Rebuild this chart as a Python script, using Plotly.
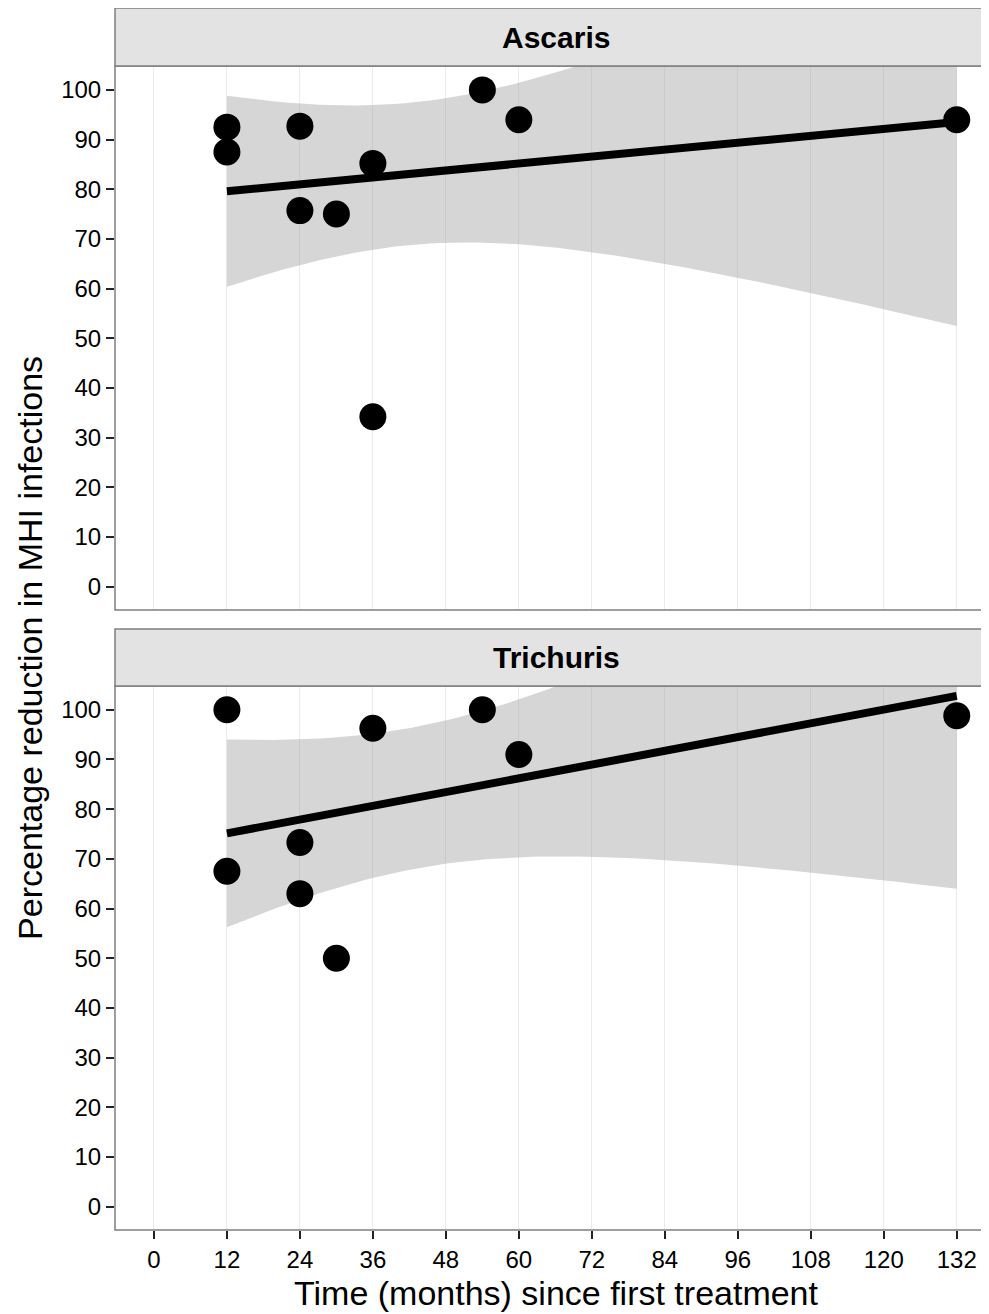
import numpy as np
import plotly.graph_objects as go

# ---- data ----
asc_x = [12, 12, 24, 24, 30, 36, 36, 54, 60, 132]
asc_y = [92.5, 87.5, 92.7, 75.7, 75.0, 85.2, 34.2, 100.0, 94.0, 94.0]
tri_x = [12, 12, 24, 24, 30, 36, 54, 60, 132]
tri_y = [100.0, 67.5, 73.3, 63.0, 50.0, 96.3, 100.0, 91.0, 98.8]
panels = ["Ascaris", "Trichuris"]
x_ticks = [0, 12, 24, 36, 48, 60, 72, 84, 96, 108, 120, 132]
y_ticks = [0, 10, 20, 30, 40, 50, 60, 70, 80, 90, 100]
t975 = {8: 2.306004, 7: 2.364624}

FONT = "Liberation Sans, Arial, sans-serif"


def lm_band(x, y, n_grid=80):
    x = np.asarray(x, float)
    y = np.asarray(y, float)
    n = len(x)
    b1, b0 = np.polyfit(x, y, 1)
    resid = y - (b0 + b1 * x)
    s = np.sqrt(np.sum(resid ** 2) / (n - 2))
    xbar = x.mean()
    sxx = np.sum((x - xbar) ** 2)
    xg = np.linspace(x.min(), x.max(), n_grid)
    yh = b0 + b1 * xg
    se = s * np.sqrt(1.0 / n + (xg - xbar) ** 2 / sxx)
    t = t975[n - 2]
    return xg, yh, yh - t * se, yh + t * se


fig = go.Figure()
data = [(asc_x, asc_y), (tri_x, tri_y)]
for i, (xs, ys) in enumerate(data):
    xa = "x" if i == 0 else "x2"
    ya = "y" if i == 0 else "y2"
    xg, yh, lo, hi = lm_band(xs, ys)
    fig.add_trace(go.Scatter(x=xg, y=lo, mode="lines", line=dict(width=0),
                             hoverinfo="skip", showlegend=False, xaxis=xa, yaxis=ya))
    fig.add_trace(go.Scatter(x=xg, y=hi, mode="lines", line=dict(width=0),
                             fill="tonexty", fillcolor="rgba(153,153,153,0.4)",
                             hoverinfo="skip", showlegend=False, xaxis=xa, yaxis=ya))
    fig.add_trace(go.Scatter(x=xg, y=yh, mode="lines", line=dict(color="black", width=8),
                             showlegend=False, xaxis=xa, yaxis=ya))
    fig.add_trace(go.Scatter(x=xs, y=ys, mode="markers",
                             marker=dict(color="black", size=27, line=dict(width=0)),
                             showlegend=False, xaxis=xa, yaxis=ya))

# domains (paper fractions)
d_p2 = [0.0, 0.4452]
d_s2 = [0.4452, 0.4918]
d_p1 = [0.5074, 0.9525]
d_s1 = [0.9525, 1.0]

xr = [-6.4, 137.3]
yr = [-4.7, 104.8]

tickfont = dict(family=FONT, size=24, color="black")
common_x = dict(range=xr, tickvals=x_ticks, showgrid=True, gridcolor="#EBEBEB", gridwidth=1.3,
                zeroline=False, showline=False, ticklen=8, tickwidth=2,
                tickcolor="#222222", tickfont=tickfont)
common_y = dict(range=yr, tickvals=y_ticks, showgrid=False, zeroline=False, showline=False,
                ticks="outside", ticklen=8, tickwidth=2, tickcolor="#222222",
                tickfont=tickfont)

fig.update_layout(
    width=981, height=1306,
    margin=dict(l=107, r=0, t=0, b=84),
    paper_bgcolor="white", plot_bgcolor="white",
    xaxis=dict(domain=[0, 1], anchor="y", showticklabels=False, ticks="", **common_x),
    yaxis=dict(domain=d_p1, anchor="x", **common_y),
    xaxis2=dict(domain=[0, 1], anchor="y2", ticks="outside", **common_x),
    yaxis2=dict(domain=d_p2, anchor="x2", **common_y),
)

shapes = []
for dom in (d_p1, d_p2):
    shapes.append(dict(type="rect", xref="paper", yref="paper", x0=0, x1=1.02,
                       y0=dom[0], y1=dom[1], line=dict(color="#7F7F7F", width=1.5),
                       fillcolor="rgba(0,0,0,0)", layer="above"))
annotations = []
for dom, name in ((d_s1, panels[0]), (d_s2, panels[1])):
    shapes.append(dict(type="rect", xref="paper", yref="paper", x0=0, x1=1.02,
                       y0=dom[0], y1=dom[1], line=dict(color="#7F7F7F", width=1.5),
                       fillcolor="#E3E3E3", layer="above"))
    annotations.append(dict(text="<b>%s</b>" % name, xref="paper", yref="paper",
                            x=0.5046, y=(dom[0] + dom[1]) / 2, showarrow=False,
                            font=dict(family=FONT, size=30, color="black"),
                            xanchor="center", yanchor="middle"))

annotations.append(dict(text="Time (months) since first treatment", xref="paper", yref="paper",
                        x=0.5046, y=-0.0516, showarrow=False, xanchor="center", yanchor="middle",
                        font=dict(family=FONT, size=34, color="black")))
annotations.append(dict(text="Percentage reduction in MHI infections", xref="paper", yref="paper",
                        x=-0.0973, y=0.4763, showarrow=False, xanchor="center", yanchor="middle",
                        textangle=-90, font=dict(family=FONT, size=34, color="black")))

fig.update_layout(shapes=shapes, annotations=annotations)
fig.write_html("out.html")
